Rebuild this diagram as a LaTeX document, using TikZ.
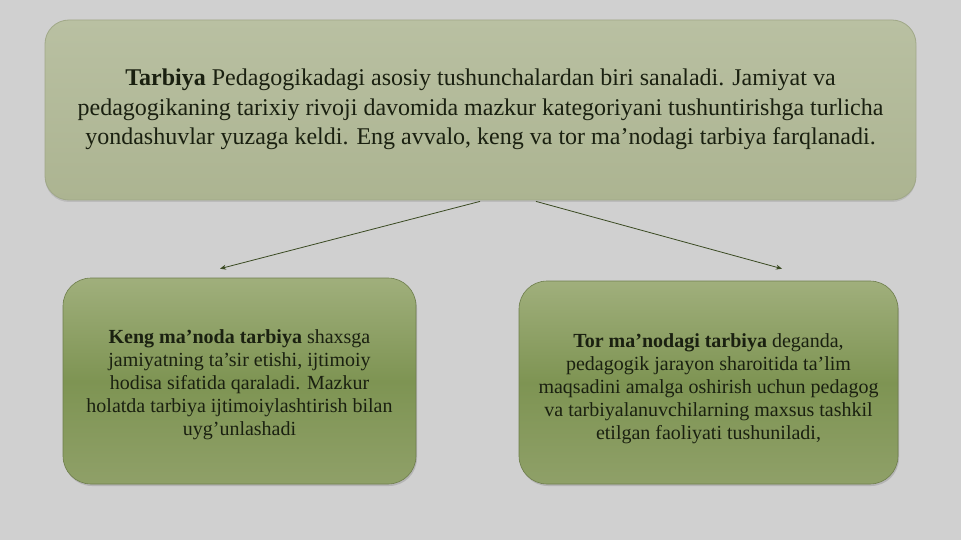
\documentclass[tikz,border=0pt]{standalone}
\usepackage{fontspec}
\setmainfont{Liberation Serif}
\usetikzlibrary{arrows.meta,calc,shadows}
\definecolor{bgc}{HTML}{D0D0D0}
\definecolor{txt}{HTML}{1A2010}
\definecolor{arr}{HTML}{3A4A22}
\definecolor{tbtop}{HTML}{B9C0A2}
\definecolor{tbbot}{HTML}{ACB491}
\definecolor{tbdraw}{HTML}{A0A888}
\definecolor{sbtop}{HTML}{A0AF7C}
\definecolor{sbmid}{HTML}{7E9453}
\definecolor{sbbot}{HTML}{8FA068}
\definecolor{sbdraw}{HTML}{6E7E4C}
\tikzset{
  topbox/.style={rounded corners=24pt, draw=tbdraw, line width=0.8pt,
    top color=tbtop, bottom color=tbbot,
    minimum width=871pt, minimum height=180pt,
    drop shadow={shadow xshift=0pt,shadow yshift=-2pt,opacity=0.25}},
  toptext/.style={align=center, text=txt, font=\fontsize{24}{29.5}\selectfont},
  subbox/.style={rounded corners=28pt, draw=sbdraw, line width=0.6pt,
    top color=sbtop, bottom color=sbbot, middle color=sbmid,
    drop shadow={shadow xshift=1pt,shadow yshift=-2pt,opacity=0.35}},
  subtext/.style={align=center, text=txt, font=\fontsize{20}{23}\selectfont},
  conn/.style={draw=arr, line width=0.8pt, -{Stealth[length=6pt,width=5pt]}}
}
\begin{document}
\begin{tikzpicture}[x=1pt,y=-1pt]
\fill[bgc] (0,0) rectangle (961,540);
\useasboundingbox (0,0) rectangle (961,540);
\node[topbox] (top) at (480.5,110) {};
\node[toptext] (toptxt) at ($(top.center)+(0,-0.5)$) {\textbf{Tarbiya} Pedagogikadagi asosiy tushunchalardan biri sanaladi. Jamiyat va\\pedagogikaning tarixiy rivoji davomida mazkur kategoriyani tushuntirishga turlicha\\yondashuvlar yuzaga keldi. Eng avvalo, keng va tor ma’nodagi tarbiya farqlanadi.};
\node[subbox, minimum width=353pt, minimum height=206pt] (left) at (239.5,381) {};
\node[subtext] (lefttxt) at ($(left.center)+(0,4)$) {\textbf{Keng ma’noda tarbiya} shaxsga\\jamiyatning ta’sir etishi, ijtimoiy\\hodisa sifatida qaraladi. Mazkur\\holatda tarbiya ijtimoiylashtirish bilan\\uyg’unlashadi};
\node[subbox, minimum width=379pt, minimum height=203pt] (right) at (708.5,382.5) {};
\node[subtext] (righttxt) at ($(right.center)+(0,6)$) {\textbf{Tor ma’nodagi tarbiya} deganda,\\pedagogik jarayon sharoitida ta’lim\\maqsadini amalga oshirish uchun pedagog\\va tarbiyalanuvchilarning maxsus tashkil\\etilgan faoliyati tushuniladi,};
\draw[conn] ($(top.south)+(-0.5,1)$) -- ($(left.north)+(-19.5,-9)$);
\draw[conn] ($(top.south)+(55.5,1)$) -- ($(right.north)+(73.5,-12)$);
\end{tikzpicture}
\end{document}
